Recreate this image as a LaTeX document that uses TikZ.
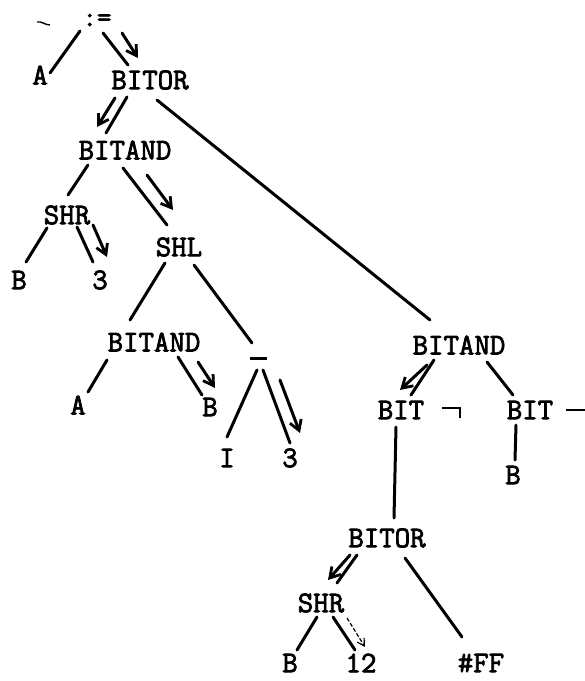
\documentclass[tikz,border=0pt]{standalone}
\usepackage{fontspec}
\newfontfamily\twfont{Latin Modern Mono}[AutoFakeBold=2.5]
\usetikzlibrary{arrows.meta,calc}
\begin{document}
\begin{tikzpicture}[x=1pt,y=-1pt,
  lbl/.style={inner sep=0pt,font=\fontsize{30}{36}\selectfont\twfont\bfseries},
  edge/.style={line width=3pt,line cap=round},
  flow/.style={line width=3pt,line cap=round,-{Straight Barb[length=10pt,width=12pt,line width=2.8pt]}},
  faint/.style={line width=1.2pt,dash pattern=on 4pt off 2pt,-{Straight Barb[length=7pt,width=8pt,line width=1.2pt]}}]
\useasboundingbox (0,0) rectangle (585,681);
% nodes
\node[lbl,font=\fontsize{28}{32}\selectfont\twfont\bfseries] (assign) at (97,20) {:=};
\node[lbl] (A1) at (40,75) {A};
\node[lbl] (bitor1) at (150,80) {BITOR};
\node[lbl] (bitand1) at (125,150) {BITAND};
\node[lbl] (shr1) at (67,215) {SHR};
\node[lbl] (B1) at (19,280) {B};
\node[lbl] (three1) at (100,280) {3};
\node[lbl] (shl) at (179,247) {SHL};
\node[lbl] (bitand2) at (154,342) {BITAND};
\node[lbl] (A2) at (78,405) {A};
\node[lbl] (B2) at (210,407) {B};
\node[inner sep=0pt] (minus) at (258,358) {\rule{17pt}{3pt}};
\node[lbl] (I) at (227,458) {I};
\node[lbl] (three2) at (290,458) {3};
\node[lbl] (bitand3) at (459,345) {BITAND};
\node[lbl] (bit1) at (401,410) {BIT};
\node[inner sep=0pt,minimum width=17pt,minimum height=10pt] (neg) at (451,413) {};
\node[lbl] (bit2) at (530,410) {BIT};
\node[inner sep=0pt] (minus2) at (576,410) {\rule{20pt}{2.5pt}};
\node[lbl] (B3) at (513,475) {B};
\node[lbl] (bitor2) at (387,538) {BITOR};
\node[lbl] (shr2) at (321,603) {SHR};
\node[lbl] (B4) at (290,663) {B};
\node[lbl] (twelve) at (361,663) {12};
\node[lbl] (ff) at (481,663) {\#FF};
% the negation sign
\draw[line width=2.4pt] (neg.north west) -- (neg.north east) -- (neg.south east);
% stray mark
\draw[line width=1.4pt] (37,22) .. controls (42,21) and (45,25) .. (50,25);
% edges
\draw[edge] ($(assign)+(-17,11)$) -- ($(A1)+(10,-2)$);
\draw[edge] ($(assign)+(6,13)$) -- ($(bitor1)+(-22,-15)$);
\draw[flow] ($(assign)+(25,13)$) -- ($(bitor1)+(-12,-22)$);
\draw[edge] ($(bitor1)+(-23,17)$) -- ($(bitand1)+(-19,-17)$);
\draw[flow] ($(bitor1)+(-35,18)$) -- ($(bitand1)+(-28,-23)$);
\draw[edge] ($(bitor1)+(7,20)$) -- ($(bitand3)+(-29,-25)$);
\draw[edge] ($(bitand1)+(-37,15)$) -- ($(shr1)+(1,-20)$);
\draw[edge] ($(bitand1)+(-2,18)$) -- ($(shl)+(-12,-22)$);
\draw[flow] ($(bitand1)+(22,25)$) -- ($(shl)+(-6,-37)$);
\draw[edge] ($(shr1)+(-20,13)$) -- ($(B1)+(7,-18)$);
\draw[edge] ($(shr1)+(10,12)$) -- ($(three1)+(-7,-18)$);
\draw[flow] ($(shr1)+(26,10)$) -- ($(three1)+(7,-23)$);
\draw[edge] ($(shl)+(-14,16)$) -- ($(bitand2)+(-24,-22)$);
\draw[edge] ($(shl)+(15,18)$) -- ($(minus)+(-6,-15)$);
\draw[edge] ($(bitand2)+(-47,18)$) -- ($(A2)+(10,-13)$);
\draw[edge] ($(bitand2)+(24,15)$) -- ($(B2)+(-8,-12)$);
\draw[flow] ($(bitand2)+(44,20)$) -- ($(B2)+(5,-19)$);
\draw[edge] ($(minus)+(-1,12)$) -- ($(I)+(0,-21)$);
\draw[edge] ($(minus)+(5,12)$) -- ($(three2)+(0,-15)$);
\draw[flow] ($(minus)+(22,22)$) -- ($(three2)+(10,-25)$);
\draw[edge] ($(bitand3)+(-25,15)$) -- ($(bit1)+(10,-15)$);
\draw[flow] ($(bitand3)+(-32,20)$) -- ($(bit1)+(-1,-20)$);
\draw[edge] ($(bitand3)+(28,17)$) -- ($(bit2)+(-17,-15)$);
\draw[edge] ($(bit2)+(-14,15)$) -- ($(B3)+(2,-15)$);
\draw[edge] ($(bit1)+(-5,17)$) -- ($(bitor2)+(7,-20)$);
\draw[edge] ($(bitor2)+(-30,17)$) -- ($(shr2)+(16,-20)$);
\draw[flow] ($(bitor2)+(-37,17)$) -- ($(shr2)+(7,-23)$);
\draw[edge] ($(bitor2)+(18,20)$) -- ($(ff)+(-19,-26)$);
\draw[edge] ($(shr2)+(-4,14)$) -- ($(B4)+(7,-13)$);
\draw[edge] ($(shr2)+(12,14)$) -- ($(twelve)+(-6,-13)$);
\draw[faint] ($(shr2)+(26,15)$) -- ($(twelve)+(4,-16)$);
\end{tikzpicture}
\end{document}
